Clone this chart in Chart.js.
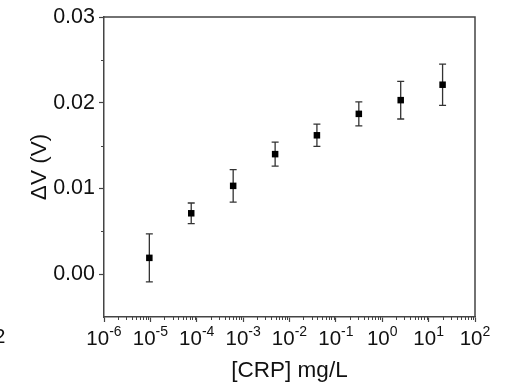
<!DOCTYPE html>
<html>
<head>
<meta charset="utf-8">
<script src="https://cdn.jsdelivr.net/npm/chart.js@4"></script>
<style>
  body { margin: 0; background: #fff; }
  #wrap { width: 505px; height: 388px; }
</style>
</head>
<body>
<div id="wrap"><canvas id="myChart"></canvas></div>
<script>
// CRP concentration (mg/L), 8x dilution series
const concentrations = [9.5e-6, 7.6e-5, 6.1e-4, 4.9e-3, 0.039, 0.3125, 2.5, 20];
const deltaV = [0.0019, 0.0071, 0.0103, 0.0140, 0.0162, 0.0187, 0.0203, 0.0221];
const deltaVErr = [0.0028, 0.0012, 0.0019, 0.0014, 0.0013, 0.0014, 0.0022, 0.0024];

const xTickExps = [-6, -5, -4, -3, -2, -1, 0, 1, 2];
const yTicks = [0, 0.01, 0.02, 0.03];
const yMinorTicks = [0.005, 0.015, 0.025];

const FONT = "'Liberation Sans', Arial, sans-serif";
const AXIS = "#444";

// error bars, minor ticks, box and superscript tick labels
const extras = {
    id: "extras",
    beforeDatasetsDraw(chart) {
        const ctx = chart.ctx, xs = chart.scales.x, ys = chart.scales.y;
        ctx.save();
        ctx.strokeStyle = "#333";
        ctx.lineWidth = 1.3;
        concentrations.forEach((c, i) => {
            const x = xs.getPixelForValue(c);
            const y1 = ys.getPixelForValue(deltaV[i] + deltaVErr[i]);
            const y2 = ys.getPixelForValue(deltaV[i] - deltaVErr[i]);
            ctx.beginPath();
            ctx.moveTo(x, y1); ctx.lineTo(x, y2);
            ctx.moveTo(x - 3.5, y1); ctx.lineTo(x + 3.5, y1);
            ctx.moveTo(x - 3.5, y2); ctx.lineTo(x + 3.5, y2);
            ctx.stroke();
        });
        ctx.restore();
    },
    afterDraw(chart) {
        const ctx = chart.ctx, xs = chart.scales.x, ys = chart.scales.y;
        const a = chart.chartArea;
        ctx.save();
        ctx.strokeStyle = AXIS;
        ctx.lineWidth = 1.5;
        // top and right frame
        ctx.beginPath();
        ctx.moveTo(a.left, a.top); ctx.lineTo(a.right, a.top); ctx.lineTo(a.right, a.bottom);
        ctx.stroke();
        // minor ticks
        ctx.lineWidth = 1;
        ctx.beginPath();
        for (let k = -6; k < 2; k++) {
            for (let m = 2; m <= 9; m++) {
                const x = Math.round(xs.getPixelForValue(m * Math.pow(10, k))) + 0.5;
                ctx.moveTo(x, a.bottom); ctx.lineTo(x, a.bottom + 3);
            }
        }
        yMinorTicks.forEach(v => {
            const y = Math.round(ys.getPixelForValue(v)) + 0.5;
            ctx.moveTo(a.left, y); ctx.lineTo(a.left - 3, y);
        });
        ctx.stroke();
        // x tick labels with superscripts
        ctx.fillStyle = "#111";
        ctx.textBaseline = "alphabetic";
        ctx.textAlign = "left";
        xTickExps.forEach(k => {
            const x = xs.getPixelForValue(Math.pow(10, k));
            ctx.font = "20.5px " + FONT;
            const w1 = ctx.measureText("10").width;
            ctx.font = "14px " + FONT;
            const sup = String(k);
            const w2 = ctx.measureText(sup).width;
            const x0 = x - (w1 + w2) / 2;
            ctx.font = "20.5px " + FONT;
            ctx.fillText("10", x0, 345);
            ctx.font = "14px " + FONT;
            ctx.fillText(sup, x0 + w1, 336);
        });
        // cut-off label from the neighbouring panel
        ctx.font = "20.5px " + FONT;
        ctx.fillText("2", -6, 343);
        ctx.restore();
    }
};

new Chart("myChart", {
    type: "scatter",
    data: {
        datasets: [
            {
                data: concentrations.map((c, i) => ({ x: c, y: deltaV[i] })),
                pointStyle: "rect",
                pointRadius: 4.6,
                backgroundColor: "#000",
                borderColor: "#000",
                borderWidth: 0,
            },
        ],
    },
    options: {
        responsive: true,
        maintainAspectRatio: false,
        animation: false,
        layout: { padding: { left: 22, right: 30, top: 17, bottom: 0 } },
        plugins: { legend: { display: false }, tooltip: { enabled: false } },
        scales: {
            x: {
                type: "logarithmic",
                min: 1e-6,
                max: 1e2,
                afterBuildTicks: s => { s.ticks = xTickExps.map(k => ({ value: Math.pow(10, k) })); },
                afterFit: s => { s.height = 71; },
                ticks: { callback: () => "", autoSkip: false },
                grid: { drawOnChartArea: false, tickLength: 5, tickColor: AXIS, tickWidth: 1.2 },
                border: { color: AXIS, width: 1.5 },
                title: {
                    display: true,
                    text: "[CRP] mg/L",
                    color: "#111",
                    font: { family: FONT, size: 22.5 },
                },
            },
            y: {
                min: -0.005,
                max: 0.03,
                afterBuildTicks: s => { s.ticks = yTicks.map(v => ({ value: v })); },
                afterFit: s => { s.width = 82; },
                ticks: {
                    callback: v => v.toFixed(2),
                    color: "#111",
                    padding: 4,
                    font: { family: FONT, size: 21.5 },
                },
                grid: { drawOnChartArea: false, tickLength: 5, tickColor: AXIS, tickWidth: 1.2 },
                border: { color: AXIS, width: 1.5 },
                title: {
                    display: true,
                    text: "\u0394V (V)",
                    color: "#111",
                    font: { family: FONT, size: 22.5 },
                },
            },
        },
    },
    plugins: [extras],
});
</script>
</body>
</html>
